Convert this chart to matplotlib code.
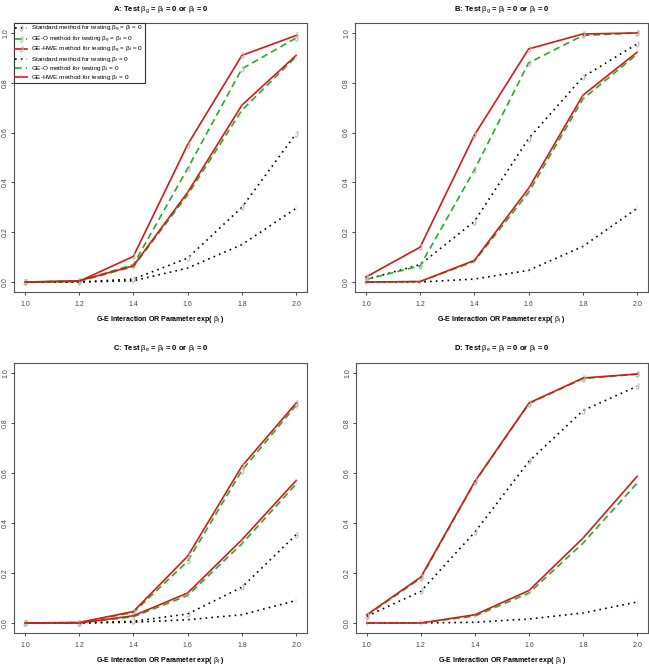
"""Power curves for four test scenarios"""

import matplotlib
matplotlib.use('Agg')
import matplotlib.pyplot as plt

plt.rcParams['font.family'] = ['Liberation Sans', 'DejaVu Sans']
plt.rcParams['mathtext.fontset'] = 'custom'
plt.rcParams['mathtext.rm'] = 'Liberation Sans'
plt.rcParams['mathtext.it'] = 'Liberation Sans'

# x values: G-E interaction odds ratio
orValues = [1.0, 1.2, 1.4, 1.6, 1.8, 2.0]
xTicks = [1.0, 1.2, 1.4, 1.6, 1.8, 2.0]
yTicks = [0.0, 0.2, 0.4, 0.6, 0.8, 1.0]

# Panel A
aStdJoint = [0.0, 0.0, 0.012, 0.096, 0.30, 0.596]
aGeoJoint = [0.0, 0.003, 0.07, 0.456, 0.856, 0.98]
aHweJoint = [0.0, 0.003, 0.103, 0.552, 0.91, 0.99]
aStdInt = [0.0, 0.0, 0.005, 0.056, 0.15, 0.296]
aGeoInt = [0.0, 0.003, 0.062, 0.35, 0.69, 0.905]
aHweInt = [0.0, 0.005, 0.065, 0.36, 0.71, 0.91]

# Panel B
bStdJoint = [0.01, 0.07, 0.243, 0.576, 0.823, 0.956]
bGeoJoint = [0.01, 0.065, 0.45, 0.88, 0.99, 1.0]
bHweJoint = [0.02, 0.14, 0.59, 0.936, 0.996, 1.0]
bStdInt = [0.0, 0.0, 0.012, 0.047, 0.143, 0.296]
bGeoInt = [0.0, 0.002, 0.083, 0.36, 0.735, 0.915]
bHweInt = [0.0, 0.002, 0.087, 0.376, 0.75, 0.923]

# Panel C
cStdJoint = [0.0, 0.0, 0.007, 0.036, 0.143, 0.353]
cGeoJoint = [0.0, 0.002, 0.042, 0.247, 0.61, 0.871]
cHweJoint = [0.0, 0.002, 0.046, 0.267, 0.627, 0.88]
cStdInt = [0.0, 0.0, 0.003, 0.013, 0.033, 0.09]
cGeoInt = [0.0, 0.0, 0.025, 0.11, 0.317, 0.556]
cHweInt = [0.0, 0.0, 0.029, 0.12, 0.333, 0.57]

# Panel D
dStdJoint = [0.027, 0.127, 0.364, 0.647, 0.85, 0.947]
dGeoJoint = [0.03, 0.18, 0.565, 0.878, 0.978, 0.995]
dHweJoint = [0.033, 0.184, 0.567, 0.88, 0.98, 0.996]
dStdInt = [0.0, 0.0, 0.003, 0.016, 0.04, 0.084]
dGeoInt = [0.0, 0.0, 0.028, 0.12, 0.32, 0.56]
dHweInt = [0.0, 0.0, 0.033, 0.13, 0.34, 0.587]

titles = [
    r'A: Test $\beta_g$ = $\beta_I$ = 0 or $\beta_I$ = 0',
    r'B: Test $\beta_g$ = $\beta_I$ = 0 or $\beta_I$ = 0',
    r'C: Test $\beta_e$ = $\beta_I$ = 0 or $\beta_I$ = 0',
    r'D: Test $\beta_e$ = $\beta_I$ = 0 or $\beta_I$ = 0',
]
legendLabels = [
    r'Standard method for testing $\beta_g$ = $\beta_I$ = 0',
    r'GE-O method for testing $\beta_g$ = $\beta_I$ = 0',
    r'GE-HWE method for testing $\beta_g$ = $\beta_I$ = 0',
    r'Standard method for testing $\beta_I$ = 0',
    r'GE-O method for testing $\beta_I$ = 0',
    r'GE-HWE method for testing $\beta_I$ = 0',
]
xLabel = r'G-E Interaction OR Parameter exp( $\beta_I$ )'

panels = [
    [aStdJoint, aGeoJoint, aHweJoint, aStdInt, aGeoInt, aHweInt],
    [bStdJoint, bGeoJoint, bHweJoint, bStdInt, bGeoInt, bHweInt],
    [cStdJoint, cGeoJoint, cHweJoint, cStdInt, cGeoInt, cHweInt],
    [dStdJoint, dGeoJoint, dHweJoint, dStdInt, dGeoInt, dHweInt],
]

W, H = 649, 668
# axes boxes in pixels: left, top, right, bottom
boxes = [
    (14, 23, 307, 292),
    (355, 23, 648, 292),
    (14, 363, 307, 633),
    (356, 363, 648, 633),
]

styles = [
    dict(color='black', linestyle=(0, (1, 2.5)), marker=r'$\mathrm{J}$'),
    dict(color='#22b022', linestyle=(0, (4, 2.5)), marker=r'$\mathrm{J}$'),
    dict(color='#d41a1a', linestyle='-', marker=r'$\mathrm{J}$'),
    dict(color='black', linestyle=(0, (1, 2.5)), marker=r'$\mathrm{I}$'),
    dict(color='#22b022', linestyle=(0, (4, 2.5)), marker=r'$\mathrm{I}$'),
    dict(color='#d41a1a', linestyle='-', marker=r'$\mathrm{I}$'),
]

fig = plt.figure(figsize=(W / 100, H / 100), dpi=100)

for i, series in enumerate(panels):
    l, t, r, b = boxes[i]
    ax = fig.add_axes([l / W, 1 - b / H, (r - l) / W, (b - t) / H])
    handles = []
    for vals, st in zip(series, styles):
        h, = ax.plot(orValues, vals, color=st['color'], linestyle=st['linestyle'],
                     linewidth=1.2, marker=st['marker'], markersize=4,
                     markeredgewidth=0.3, markerfacecolor='#bbbbbb',
                     markeredgecolor='#bbbbbb')
        handles.append(h)
    ax.set_xlim(1.0 - 0.04, 2.0 + 0.04)
    ax.set_ylim(-0.04, 1.04)
    ax.set_xticks(xTicks)
    ax.set_xticklabels(['%.1f' % v for v in xTicks])
    ax.set_yticks(yTicks)
    ax.set_yticklabels(['%.1f' % v for v in yTicks], rotation=90, va='center')
    ax.tick_params(labelsize=5, length=2.5, width=0.7, colors='#444444')
    ax.tick_params(axis='x', pad=4)
    ax.tick_params(axis='y', pad=1)
    for sp in ax.spines.values():
        sp.set_color('#555555')
        sp.set_linewidth(0.8)
    ax.set_title(titles[i], fontsize=5.5, fontweight='bold', pad=9)
    ax.set_xlabel(xLabel, fontsize=5, fontweight='bold', labelpad=4)
    if i == 0:
        leg = ax.legend(handles, legendLabels, loc='upper left', fontsize=4.6,
                        borderaxespad=0, fancybox=False, handlelength=1.9,
                        handletextpad=0.6, labelspacing=0.0,
                        borderpad=0.2, framealpha=1)
        leg.get_frame().set_edgecolor('#333333')
        leg.get_frame().set_linewidth(0.8)

plt.savefig('out.png', dpi=100)
